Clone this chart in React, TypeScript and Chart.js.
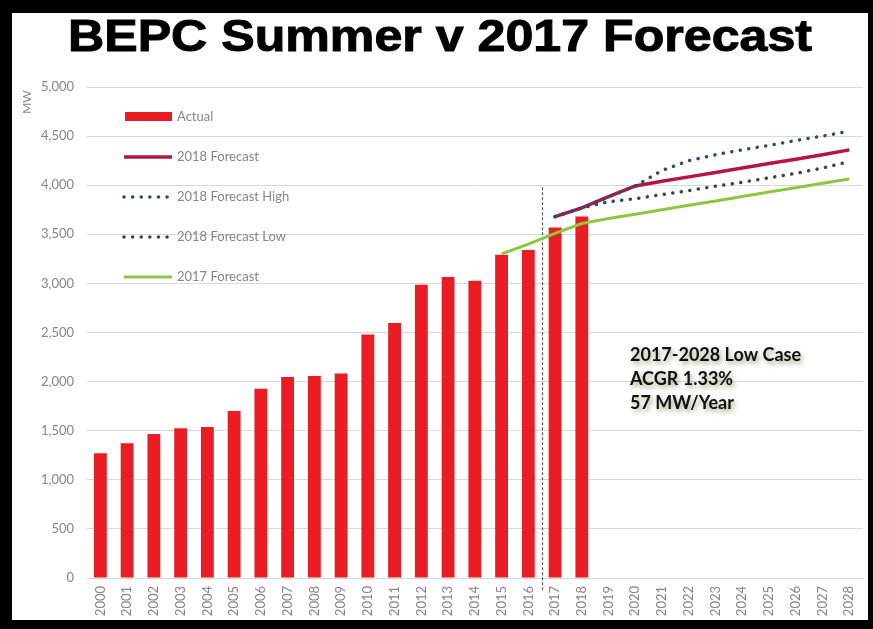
import React, { useEffect, useRef } from "react";
import { Chart, registerables } from "chart.js";

Chart.register(...registerables);

const years: string[] = [
  "2000","2001","2002","2003","2004","2005","2006","2007","2008","2009",
  "2010","2011","2012","2013","2014","2015","2016","2017","2018","2019",
  "2020","2021","2022","2023","2024","2025","2026","2027","2028",
];

// Actual values 2000-2018
const actual: number[] = [
  1270, 1372, 1466, 1524, 1537, 1700, 1928, 2047, 2058, 2082,
  2480, 2598, 2986, 3066, 3026, 3292, 3340, 3568, 3680,
];
// 2018 forecast 2017-2028
const forecast2018: number[] = [3680, 3768, 3883, 3992, 4040, 4085, 4130, 4175, 4220, 4265, 4310, 4360];
const forecast2018High: number[] = [3680, 3768, 3883, 3992, 4150, 4250, 4310, 4360, 4405, 4455, 4500, 4550];
const forecast2018Low: number[] = [3680, 3768, 3832, 3862, 3905, 3945, 3990, 4030, 4075, 4120, 4175, 4240];
// 2017 forecast 2015-2028
const forecast2017: number[] = [3300, 3400, 3510, 3610, 3660, 3705, 3750, 3795, 3840, 3885, 3930, 3975, 4020, 4063];

const yTicks: number[] = [0, 500, 1000, 1500, 2000, 2500, 3000, 3500, 4000, 4500, 5000];

const titleText = "BEPC Summer v 2017 Forecast";
const noteLines: string[] = ["2017-2028 Low Case", "ACGR 1.33%", "57 MW/Year"];

const C_BAR = "#ea1c24";
const C_F18 = "#b3173b";
const C_HIGH = "#2c4a7a";
const C_LOW = "#3b4552";
const C_F17 = "#8dc63f";
const C_TEXT = "#858585";

function pad(startYear: number, vals: number[]): (number | null)[] {
  const start = years.indexOf(String(startYear));
  return years.map((_, i) => (i >= start && i - start < vals.length ? vals[i - start] : null));
}

const decorPlugin = {
  id: "decor",
  beforeDatasetsDraw(chart: any) {
    const ctx = chart.ctx;
    const xs = chart.scales.x;
    const ys = chart.scales.y;
    const i16 = years.indexOf("2016");
    const xm = (xs.getPixelForValue(i16) + xs.getPixelForValue(i16 + 1)) / 2;
    ctx.save();
    ctx.strokeStyle = "#5a5a5a";
    ctx.lineWidth = 1.2;
    ctx.setLineDash([3, 2]);
    ctx.beginPath();
    ctx.moveTo(Math.round(xm) + 0.5, ys.getPixelForValue(3980));
    ctx.lineTo(Math.round(xm) + 0.5, chart.chartArea.bottom + 12);
    ctx.stroke();
    ctx.restore();
  },
  afterDraw(chart: any) {
    const ctx = chart.ctx;
    ctx.save();
    // Title
    ctx.font = "bold 45px 'Liberation Sans', Arial, sans-serif";
    ctx.fillStyle = "#000";
    ctx.textBaseline = "alphabetic";
    ctx.textAlign = "left";
    const w = ctx.measureText(titleText).width;
    const targetW = 744;
    ctx.save();
    ctx.translate(68, 51);
    ctx.scale(targetW / w, 1);
    ctx.lineWidth = 1;
    ctx.strokeStyle = "#000";
    ctx.strokeText(titleText, 0, 0);
    ctx.fillText(titleText, 0, 0);
    ctx.restore();

    // MW axis label
    ctx.save();
    ctx.translate(27, 102);
    ctx.rotate(-Math.PI / 2);
    ctx.font = "12px Lato, sans-serif";
    ctx.fillStyle = C_TEXT;
    ctx.textAlign = "center";
    ctx.textBaseline = "middle";
    ctx.fillText("MW", 0, 0);
    ctx.restore();

    // Legend
    const lx0 = 124, lx1 = 172, tx = 177;
    const rows = chart.data.datasets;
    const ys0 = [116.5, 157, 197, 237, 277];
    ctx.font = "13px Lato, sans-serif";
    ctx.textBaseline = "middle";
    ctx.textAlign = "left";
    rows.forEach((ds: any, k: number) => {
      const yy = ys0[k];
      ctx.save();
      if (k === 0) {
        ctx.fillStyle = ds.backgroundColor;
        ctx.fillRect(lx0 + 1, yy - 4.5, lx1 - lx0 - 1, 9);
      } else {
        ctx.strokeStyle = ds.borderColor;
        ctx.lineWidth = ds.borderWidth;
        ctx.lineCap = ds.borderCapStyle || "butt";
        ctx.setLineDash(ds.borderDash || []);
        ctx.beginPath();
        ctx.moveTo(lx0, yy);
        ctx.lineTo(lx1, yy);
        ctx.stroke();
      }
      ctx.restore();
      ctx.fillStyle = C_TEXT;
      ctx.fillText(ds.label, tx, yy);
    });

    // Annotation
    ctx.save();
    ctx.font = "bold 18px Lato, sans-serif";
    ctx.fillStyle = "#111";
    ctx.textBaseline = "middle";
    ctx.shadowColor = "rgba(110,100,50,0.6)";
    ctx.shadowBlur = 5;
    ctx.shadowOffsetX = 2;
    ctx.shadowOffsetY = 3;
    noteLines.forEach((t, k) => ctx.fillText(t, 630, 355 + k * 24));
    ctx.restore();

    ctx.restore();
  },
};

export default function App() {
  const ref = useRef<HTMLCanvasElement | null>(null);
  useEffect(() => {
    if (!ref.current) return;
    const lineBase = {
      type: "line" as const,
      pointRadius: 0,
      pointHoverRadius: 0,
      fill: false,
      tension: 0,
      spanGaps: false,
    };
    const chart = new Chart(ref.current, {
      type: "bar",
      data: {
        labels: years,
        datasets: [
          {
            type: "bar",
            label: "Actual",
            data: pad(2000, actual),
            backgroundColor: C_BAR,
            borderWidth: 0,
            barPercentage: 0.48,
            categoryPercentage: 1,
            order: 10,
          } as any,
          { ...lineBase, label: "2018 Forecast", data: pad(2017, forecast2018), borderColor: C_F18, borderWidth: 3.5, order: 4 },
          {
            ...lineBase,
            label: "2018 Forecast High",
            data: pad(2017, forecast2018High),
            borderColor: C_HIGH,
            borderWidth: 3.5,
            borderDash: [0.1, 8.5],
            borderCapStyle: "round",
            order: 1,
          },
          {
            ...lineBase,
            label: "2018 Forecast Low",
            data: pad(2017, forecast2018Low),
            borderColor: C_LOW,
            borderWidth: 3.5,
            borderDash: [0.1, 8.5],
            borderCapStyle: "round",
            order: 2,
          },
          { ...lineBase, label: "2017 Forecast", data: pad(2015, forecast2017), borderColor: C_F17, borderWidth: 3, order: 5 },
        ],
      },
      options: {
        animation: false,
        responsive: false,
        maintainAspectRatio: false,
        layout: { padding: { top: 87, right: 7, bottom: 0, left: 0 } },
        plugins: { legend: { display: false }, tooltip: { enabled: false }, title: { display: false } },
        scales: {
          x: {
            grid: { display: false, drawTicks: false },
            border: { display: true, color: "#d6d6d6", width: 1 },
            ticks: {
              minRotation: 90,
              maxRotation: 90,
              padding: 8,
              color: C_TEXT,
              font: { family: "Lato, sans-serif", size: 13 },
              autoSkip: false,
            },
            afterFit: (s: any) => {
              s.height = 51;
            },
          },
          y: {
            min: 0,
            max: 5000,
            afterBuildTicks: (s: any) => {
              s.ticks = yTicks.map((v) => ({ value: v }));
            },
            grid: { color: "#d9d9d9", drawTicks: false, lineWidth: 1 },
            border: { display: false },
            ticks: {
              padding: 13,
              color: C_TEXT,
              font: { family: "Lato, sans-serif", size: 13 },
              callback: (v: any) => Number(v).toLocaleString("en-US"),
            },
            afterFit: (s: any) => {
              s.width = 87;
            },
          },
        },
      },
      plugins: [decorPlugin],
    });
    return () => chart.destroy();
  }, []);

  return (
    <div style={{ position: "fixed", left: 0, top: 0, width: 873, height: 629, background: "#000" }}>
      <div style={{ position: "absolute", left: 12, top: 13, width: 856, height: 607, background: "#fff" }} />
      <canvas ref={ref} width={873} height={629} style={{ position: "absolute", left: 0, top: 0, width: 873, height: 629 }} />
    </div>
  );
}
